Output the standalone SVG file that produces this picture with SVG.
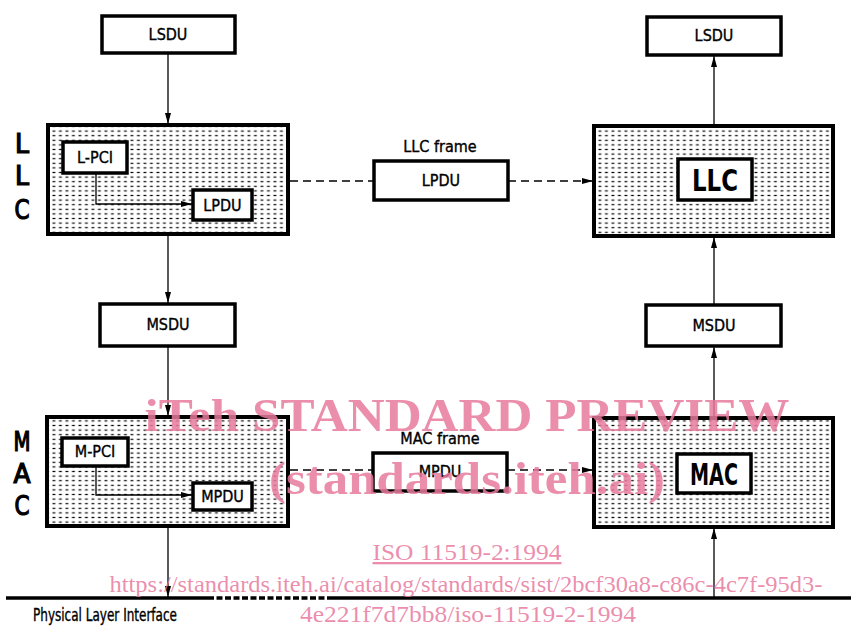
<svg xmlns="http://www.w3.org/2000/svg" width="851" height="628" viewBox="0 0 851 628">
<style>
.box{fill:#fff;stroke:#000;stroke-width:3.5}
.layer{fill:url(#dots);stroke:#000;stroke-width:4}
.inner{fill:#fff;stroke:#000;stroke-width:3.5}
.t{font-family:"DejaVu Sans Condensed","DejaVu Sans",sans-serif;font-size:16px;fill:#000;stroke:#000;stroke-width:0.35;text-anchor:middle}
.big{font-family:"DejaVu Sans",sans-serif;font-weight:bold;font-size:31px;fill:#000;text-anchor:middle}
.side{font-family:"DejaVu Sans Condensed","DejaVu Sans",sans-serif;font-size:26px;fill:#000;stroke:#000;stroke-width:1.2;text-anchor:middle}
.line{stroke:#000;stroke-width:1.3;fill:none}
.dash{stroke:#000;stroke-width:1.3;fill:none;stroke-dasharray:8 5}
.wm{font-family:"Liberation Serif",serif;fill:#e87a9e;fill-opacity:0.85;text-anchor:middle}
</style>
<defs>
<pattern id="dots" width="6.5" height="4.6" patternUnits="userSpaceOnUse">
<rect width="6.5" height="4.6" fill="#fff"/>
<rect x="0.5" y="1.7" width="2.8" height="1.2" fill="#000"/>
</pattern>
<marker id="arr" markerWidth="12" markerHeight="8" refX="11" refY="4" orient="auto" markerUnits="userSpaceOnUse">
<path d="M0,1 L11,4 L0,7 Z" fill="#000"/>
</marker>
</defs>

<g id="llc-label"><text class="side" x="22" y="153" textLength="14" lengthAdjust="spacingAndGlyphs">L</text><text class="side" x="22" y="185" textLength="14" lengthAdjust="spacingAndGlyphs">L</text><text class="side" x="22" y="219" textLength="15" lengthAdjust="spacingAndGlyphs">C</text></g>
<g id="mac-label"><text class="side" x="22" y="451" textLength="17" lengthAdjust="spacingAndGlyphs">M</text><text class="side" x="22" y="483" textLength="17" lengthAdjust="spacingAndGlyphs">A</text><text class="side" x="22" y="515" textLength="15" lengthAdjust="spacingAndGlyphs">C</text></g>

<g id="lsdu-left"><rect class="box" x="102" y="16" width="133" height="37"/><text class="t" x="168" y="40">LSDU</text></g>
<g id="lsdu-right"><rect class="box" x="647" y="17" width="134" height="38"/><text class="t" x="714" y="41">LSDU</text></g>

<g id="llc-left">
<rect class="layer" x="48" y="125" width="240" height="109"/>
<rect class="inner" x="63" y="142" width="64" height="31"/><text class="t" x="95" y="163">L-PCI</text>
<rect class="inner" x="193" y="190" width="59" height="30"/><text class="t" x="222.5" y="211">LPDU</text>
</g>
<g id="llc-frame"><text class="t" x="440" y="152">LLC frame</text><rect class="box" x="374" y="161" width="134" height="39"/><text class="t" x="441" y="186">LPDU</text></g>
<g id="llc-right">
<rect class="layer" x="594" y="126" width="239" height="110"/>
<rect class="inner" x="678" y="159" width="74" height="41"/><text class="big" x="715" y="191" textLength="46" lengthAdjust="spacingAndGlyphs">LLC</text>
</g>

<g id="msdu-left"><rect class="box" x="100" y="304" width="135" height="42"/><text class="t" x="168" y="330">MSDU</text></g>
<g id="msdu-right"><rect class="box" x="646" y="305" width="135" height="41"/><text class="t" x="714" y="331">MSDU</text></g>

<g id="mac-left">
<rect class="layer" x="47" y="417" width="241" height="109"/>
<rect class="inner" x="62" y="438" width="66" height="28"/><text class="t" x="95" y="457">M-PCI</text>
<rect class="inner" x="193" y="483" width="59" height="27"/><text class="t" x="222.5" y="502">MPDU</text>
</g>
<g id="mac-frame"><text class="t" x="440" y="444">MAC frame</text><rect class="box" x="373" y="453" width="134" height="38"/><text class="t" x="440" y="477">MPDU</text></g>
<g id="mac-right">
<rect class="layer" x="594" y="418" width="239" height="109"/>
<rect class="inner" x="677" y="454" width="74" height="39"/><text class="big" x="714" y="485" textLength="48" lengthAdjust="spacingAndGlyphs">MAC</text>
</g>

<g id="connectors">
<line class="line" x1="168" y1="53" x2="168" y2="124" marker-end="url(#arr)"/>
<line class="line" x1="168" y1="234" x2="168" y2="303" marker-end="url(#arr)"/>
<line class="line" x1="168" y1="346" x2="168" y2="416" marker-end="url(#arr)"/>
<line class="line" x1="168" y1="526" x2="168" y2="597" marker-end="url(#arr)"/>
<line class="line" x1="714" y1="126" x2="714" y2="56" marker-end="url(#arr)"/>
<line class="line" x1="714" y1="305" x2="714" y2="237" marker-end="url(#arr)"/>
<line class="line" x1="714" y1="418" x2="714" y2="347" marker-end="url(#arr)"/>
<line class="line" x1="714" y1="597" x2="714" y2="528" marker-end="url(#arr)"/>
<path class="line" d="M96,173 V204 H192" marker-end="url(#arr)"/>
<path class="line" d="M96,466 V495 H192" marker-end="url(#arr)"/>
<line class="dash" x1="290" y1="181" x2="374" y2="181"/>
<line class="dash" x1="508" y1="181" x2="593" y2="181" marker-end="url(#arr)"/>
<line class="dash" x1="290" y1="470" x2="373" y2="470"/>
<line class="dash" x1="507" y1="470" x2="593" y2="470" marker-end="url(#arr)"/>
</g>

<g id="physical">
<line x1="6" y1="598" x2="208" y2="598" stroke="#000" stroke-width="3.5"/>
<line x1="208" y1="598" x2="332" y2="598" stroke="#000" stroke-width="3.5" stroke-dasharray="6 2.5"/>
<line x1="332" y1="598" x2="851" y2="598" stroke="#000" stroke-width="3.5"/>
<text x="33" y="621" font-family="DejaVu Sans Condensed, DejaVu Sans, sans-serif" font-size="17" fill="#000" stroke="#000" stroke-width="0.35" textLength="144" lengthAdjust="spacingAndGlyphs">Physical Layer Interface</text>
</g>

<g id="watermark">
<text class="wm" x="467" y="431" font-size="46" font-weight="bold" textLength="645" lengthAdjust="spacingAndGlyphs">iTeh STANDARD PREVIEW</text>
<text class="wm" x="467" y="494" font-size="46" font-weight="bold" textLength="396" lengthAdjust="spacingAndGlyphs">(standards.iteh.ai)</text>
<text class="wm" x="467" y="560" font-size="23" textLength="189" lengthAdjust="spacingAndGlyphs" text-decoration="underline">ISO 11519-2:1994</text>
<text class="wm" x="466" y="592" font-size="23" textLength="713" lengthAdjust="spacingAndGlyphs">https://standards.iteh.ai/catalog/standards/sist/2bcf30a8-c86c-4c7f-95d3-</text>
<text class="wm" x="468" y="622" font-size="23" textLength="336" lengthAdjust="spacingAndGlyphs">4e221f7d7bb8/iso-11519-2-1994</text>
</g>
</svg>
